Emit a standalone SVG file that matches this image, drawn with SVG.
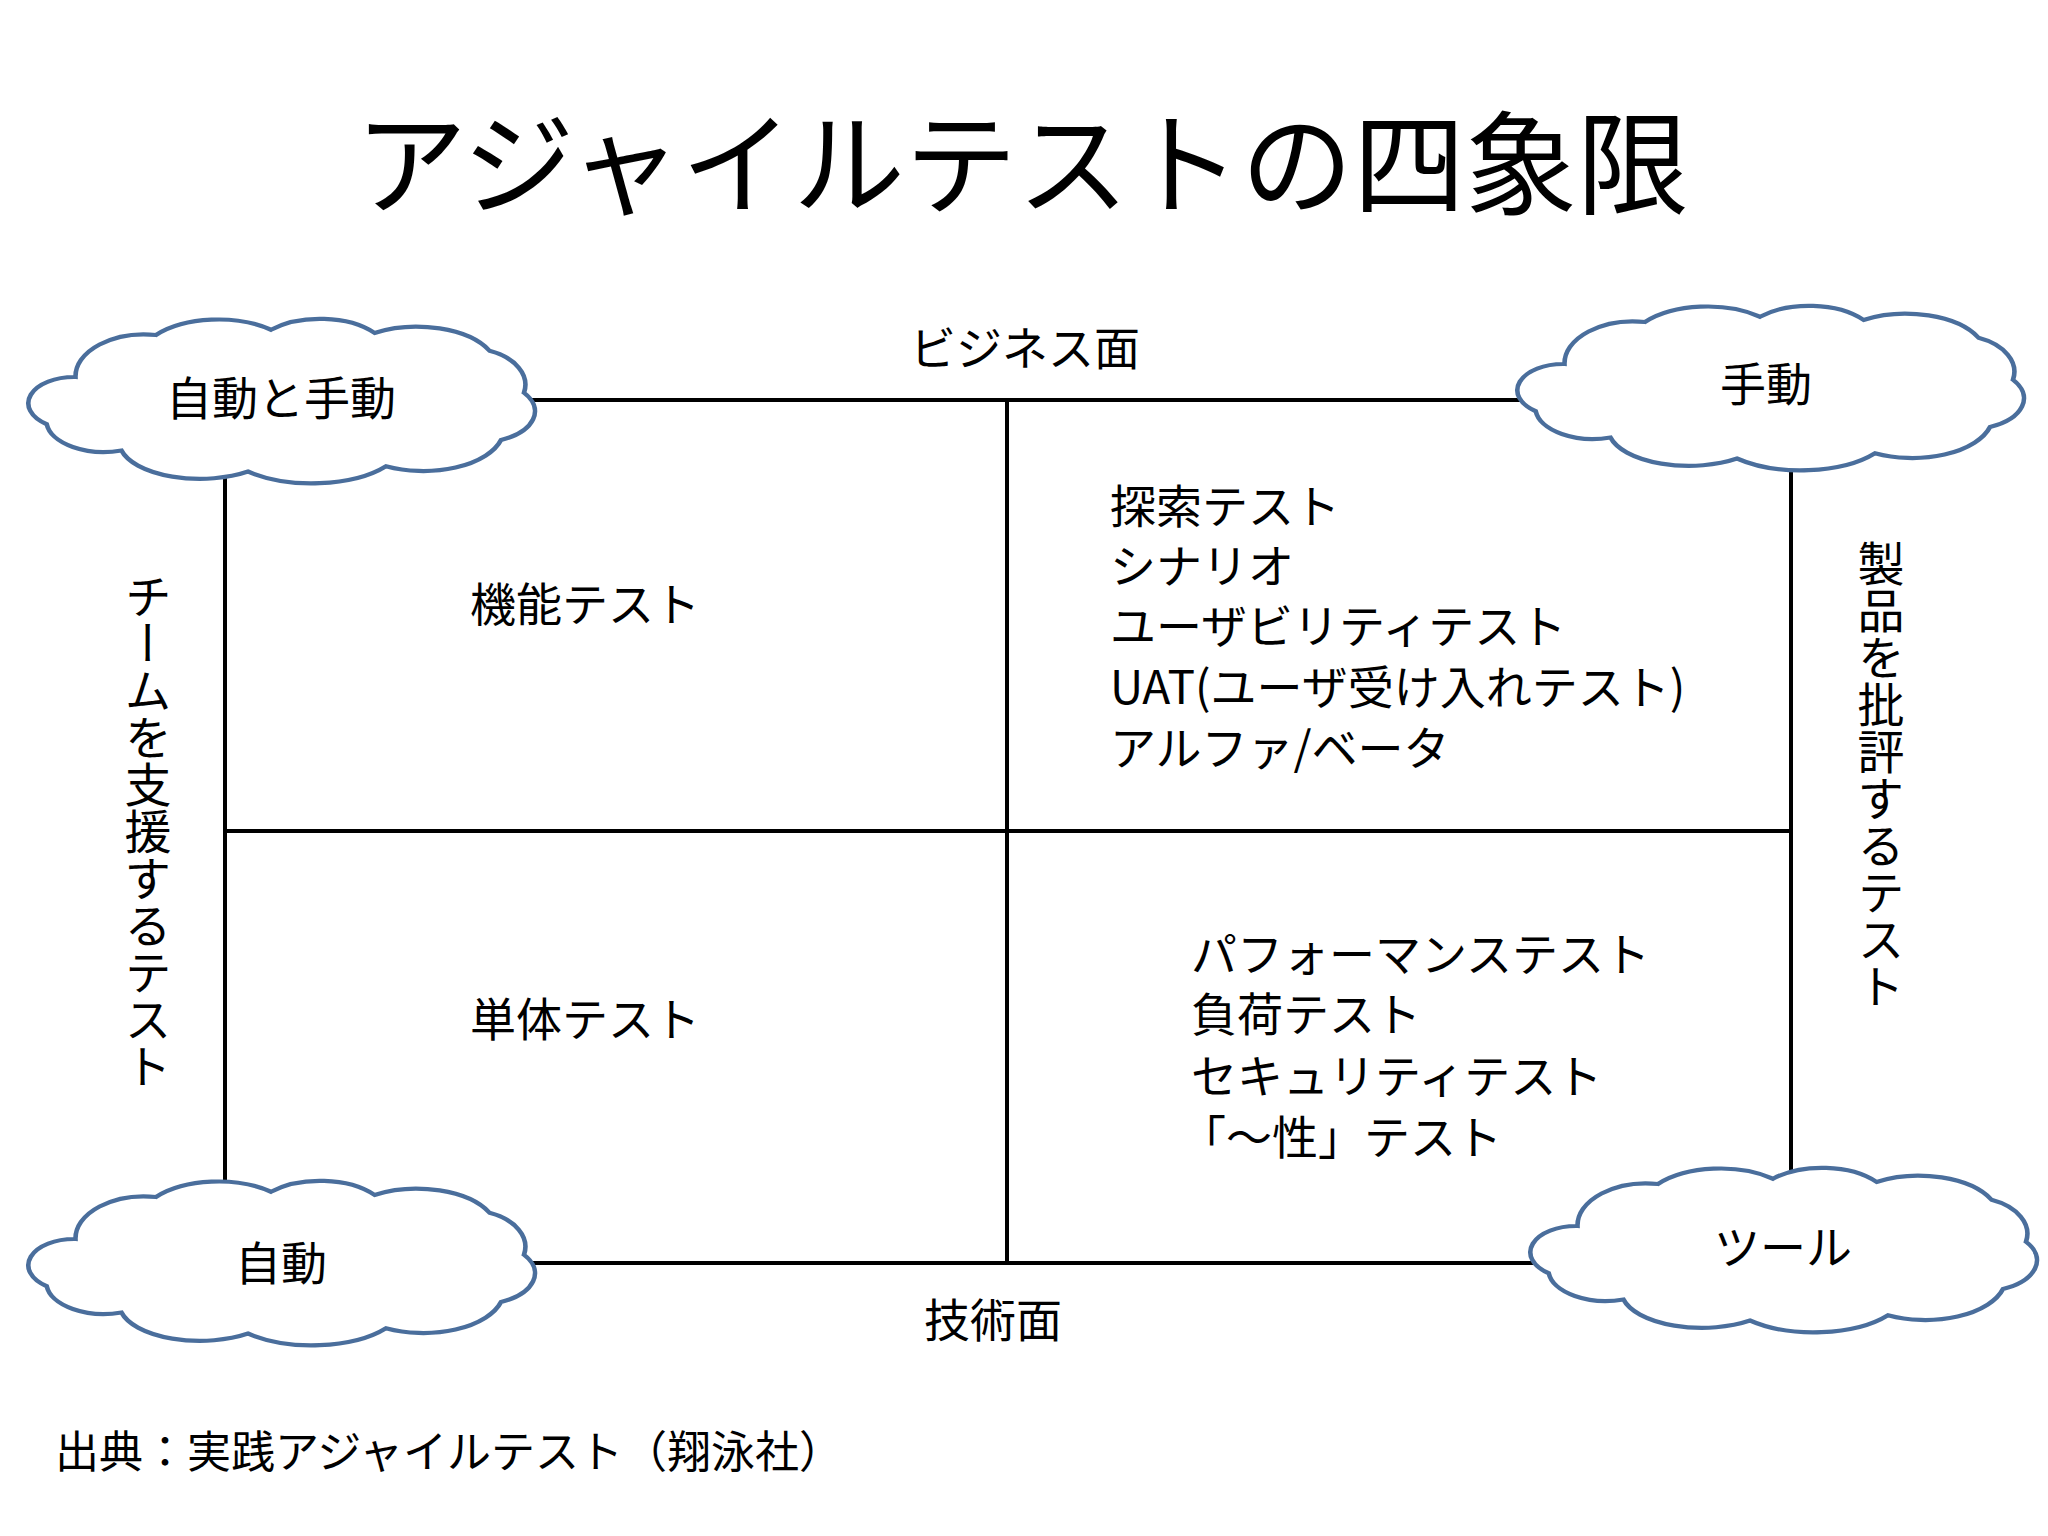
<svg xmlns="http://www.w3.org/2000/svg" width="2048" height="1536" viewBox="0 0 2048 1536">
<style>
text{font-family:"Noto Sans CJK JP","Noto Sans",sans-serif;fill:#000}
.t{font-size:46px}
.c{text-anchor:middle}
.v{writing-mode:vertical-rl;font-size:47px}
.ln{stroke:#000;stroke-width:4;fill:none}
.cloud{fill:#fff;stroke:#4a6e9c;stroke-width:4}
</style>
<defs>
<path id="cl" class="cloud" d="M -190,-20 A 60 40 0 0 1 -120,-60 A 70 40 0 0 1 -20,-65 A 60 35 0 0 1 70,-62 A 70 40 0 0 1 170,-45 A 50 35 0 0 1 200,-5 A 50 30 0 0 1 180,40 A 70 40 0 0 1 80,65 A 80 40 0 0 1 -40,70 A 70 35 0 0 1 -150,50 A 50 30 0 0 1 -215,25 A 40 25 0 0 1 -190,-20 Z"/>
</defs>
<rect width="2048" height="1536" fill="#fff"/>
<text x="1022" y="206" class="c" font-size="112">アジャイルテストの四象限</text>
<g id="connectors">
<rect class="ln" x="225" y="400" width="1566" height="863"/>
<line class="ln" x1="1007" y1="400" x2="1007" y2="1263"/>
<line class="ln" x1="225" y1="831" x2="1791" y2="831"/>
</g>
<text x="1025" y="365" class="t c">ビジネス面</text>
<text x="993" y="1337" class="t c">技術面</text>
<g id="cloud-tl"><use href="#cl" transform="translate(294,398) scale(1.15,1.05)"/><text x="281" y="415" class="t c">自動と手動</text></g>
<g id="cloud-tr"><use href="#cl" transform="translate(1783,385) scale(1.15,1.05)"/><text x="1766" y="401" class="t c">手動</text></g>
<g id="cloud-bl"><use href="#cl" transform="translate(294,1260) scale(1.15,1.05)"/><text x="281" y="1280" class="t c">自動</text></g>
<g id="cloud-br"><use href="#cl" transform="translate(1796,1247) scale(1.15,1.05)"/><text x="1783" y="1264" class="t c">ツール</text></g>
<g id="q1"><text x="470" y="621" class="t">機能テスト</text></g>
<g id="q3"><text x="470" y="1036" class="t">単体テスト</text></g>
<g id="q2">
<text x="1110" y="523" class="t">探索テスト</text>
<text x="1110" y="583" class="t">シナリオ</text>
<text x="1110" y="643" class="t">ユーザビリティテスト</text>
<text x="1110" y="704" class="t">UAT(ユーザ受け入れテスト)</text>
<text x="1110" y="765" class="t">アルファ/ベータ</text>
</g>
<g id="q4">
<text x="1191" y="971" class="t">パフォーマンステスト</text>
<text x="1191" y="1031" class="t">負荷テスト</text>
<text x="1191" y="1093" class="t">セキュリティテスト</text>
<text x="1180" y="1154" class="t">「～性」テスト</text>
</g>
<text x="148" y="573" class="v">チームを支援するテスト</text>
<text x="1881" y="540" class="v">製品を批評するテスト</text>
<text x="55" y="1468" font-size="44">出典：実践アジャイルテスト（翔泳社）</text>
</svg>
